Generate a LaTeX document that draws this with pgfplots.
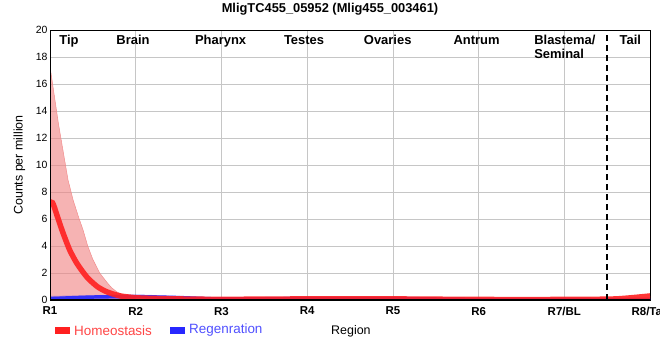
\documentclass[border=0pt]{standalone}
\usepackage{pgfplots}
\pgfplotsset{compat=1.18}
\usepackage{fontspec}
\setmainfont{Liberation Sans}
\definecolor{hred}{HTML}{FF2020}
\definecolor{hband}{HTML}{F08080}
\definecolor{rblue}{HTML}{2828FF}
\definecolor{htext}{HTML}{FF4545}
\definecolor{rtext}{HTML}{5050FF}
\begin{document}
\begin{tikzpicture}
\clip (-50bp,-60bp) rectangle (610bp,300bp);
\begin{axis}[
  scale only axis, width=600bp, height=270bp,
  xmin=1, xmax=8, ymin=0, ymax=20,
  xtick={1,...,8},
  xticklabels={R1,R2,R3,R4,R5,R6,R7/BL,R8/Tail},
  ytick={0,2,...,20},
  grid=major, major grid style={gray!45, line width=0.6pt},
  tick style={draw=none},
  xticklabel style={font=\bfseries\fontsize{11.5}{13}\selectfont, yshift=-3.5bp},
  yticklabel style={font=\fontsize{10.5}{12}\selectfont, xshift=1bp},
  /pgf/number format/assume math mode=true,
  axis line style={black, line width=0.6pt},
  ylabel={Counts per million},
  ylabel style={font=\fontsize{12.5}{14}\selectfont, at={(-28bp,135bp)}, anchor=center},
  clip=true,
  axis on top=false,
]
% red band
\addplot[draw=hband!90, fill=hband, fill opacity=0.6, line width=0.5pt] coordinates {
 (1,17.3) (1.1,13.0) (1.21,8.9) (1.27,7.4) (1.33,6.2) (1.385,5.2) (1.44,4.0) (1.50,3.0) (1.58,2.0) (1.665,1.3) (1.72,0.9) (1.78,0.6) (1.84,0.42) (1.90,0.3) (2,0.2)
} -- (axis cs:2,0) -- (axis cs:1,0) -- cycle;
% blue band
\addplot[draw=none, fill=rblue, fill opacity=0.35, smooth] coordinates {
 (1,0.3) (1.5,0.35) (2,0.4) (2.5,0.3) (3,0.2) (4,0.25) (5,0.25) (6,0.15) (7,0.15) (8,0.2)
} -- (axis cs:8,-0.2) -- (axis cs:1,-0.2) -- cycle;
% blue mean
\addplot[rblue, line width=3.5pt, smooth, opacity=0.9] coordinates {
 (1,0.1) (1.5,0.22) (2,0.25) (2.5,0.18) (3,0.08) (4,0.1) (5,0.1) (6,0.05) (7,0.05) (8,0.0)
};
% red mean
\addplot[hred, line width=5.5pt, opacity=0.9, smooth, tension=0.4] coordinates {
 (0.97,7.2) (1.03,7.2) (1.08,6.3) (1.15,5.0) (1.23,3.7) (1.315,2.7) (1.43,1.7) (1.55,1.0) (1.665,0.6) (1.82,0.3) (2.05,0.15) (2.5,0.08) (3,0.05) (4,0.08) (5,0.08) (6,0.04) (7,0.04) (7.6,0.08) (8,0.3)
};
% thick baseline and left axis
\draw[black, line width=2pt] (axis cs:1,0) -- (axis cs:8,0);
\draw[black, line width=2pt] (axis cs:1,0) -- (axis cs:1,20);
\draw[black, line width=1.6pt, dash pattern=on 6pt off 4pt] (axis cs:7.5,0) -- (axis cs:7.5,20);
% region labels
\begin{scope}[font=\bfseries\fontsize{13}{13.5}\selectfont]
\node[anchor=base] at (axis cs:1.222,18.9) {Tip};
\node[anchor=base] at (axis cs:1.968,18.9) {Brain};
\node[anchor=base] at (axis cs:2.99,18.9) {Pharynx};
\node[anchor=base] at (axis cs:3.964,18.9) {Testes};
\node[anchor=base] at (axis cs:4.94,18.9) {Ovaries};
\node[anchor=base] at (axis cs:5.977,18.9) {Antrum};
\node[anchor=base west, inner xsep=0pt] at (axis cs:6.648,18.9) {Blastema/};
\node[anchor=base west, inner xsep=0pt] at (axis cs:6.648,17.9) {Seminal};
\node[anchor=base] at (axis cs:7.77,18.9) {Tail};
\end{scope}
\end{axis}
% title
\node[font=\bfseries\fontsize{12.9}{14}\selectfont] at (280bp,291bp) {MligTC455\_05952 (Mlig455\_003461)};
% legend
\fill[hred] (5bp,-34bp) rectangle (20bp,-27bp);
\node[anchor=west, text=htext, font=\fontsize{13.5}{15}\selectfont, inner xsep=0pt] at (24bp,-30.5bp) {Homeostasis};
\fill[rblue] (120bp,-34bp) rectangle (135bp,-27bp);
\node[anchor=west, text=rtext, font=\fontsize{13.5}{15}\selectfont, inner xsep=0pt] at (139bp,-30.5bp) {Regenration};
\node[anchor=west, font=\fontsize{12.5}{14}\selectfont, inner xsep=0pt] at (281bp,-31bp) {Region};
\end{tikzpicture}
\end{document}
